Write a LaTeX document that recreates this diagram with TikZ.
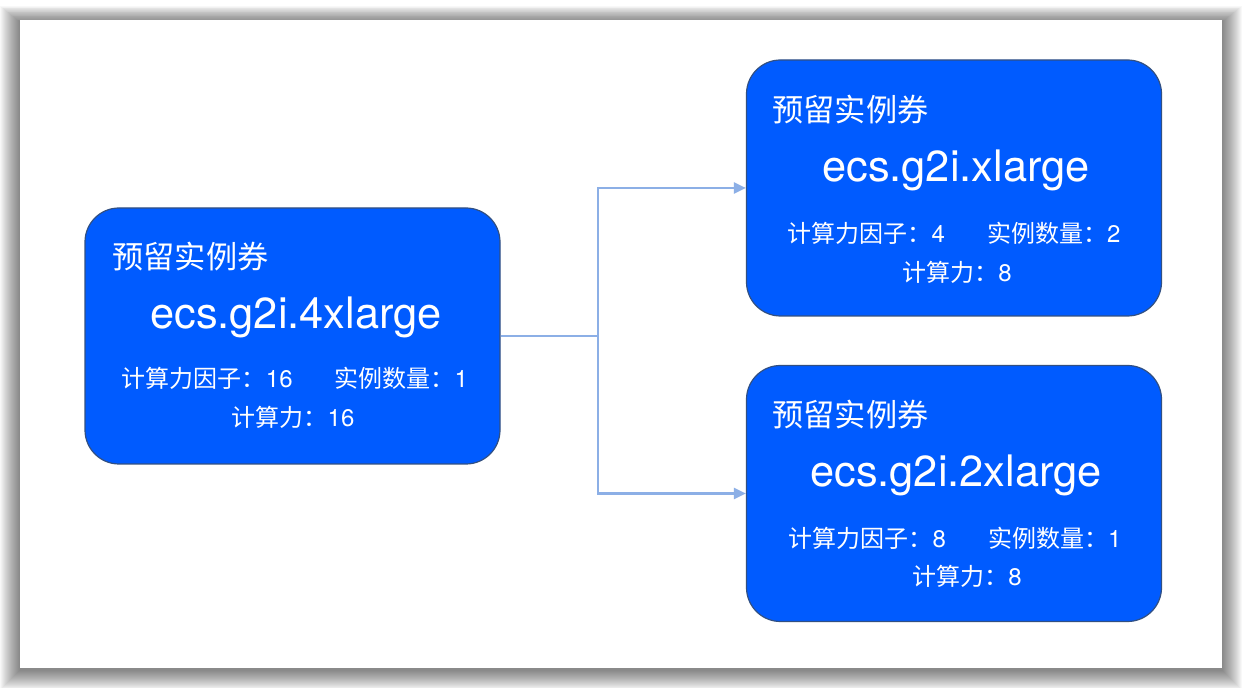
\documentclass[tikz,border=0pt]{standalone}
\usepackage{fontspec}
\setmainfont{TeX Gyre Heros}
\newfontfamily\cjk{Noto Sans CJK SC}
\usetikzlibrary{arrows.meta}
\definecolor{boxblue}{RGB}{0,91,255}
\definecolor{boxline}{RGB}{50,80,130}
\definecolor{conncol}{RGB}{140,175,230}
\tikzset{
  card/.style={draw=boxline, line width=0.6pt, fill=boxblue, rounded corners=17pt,
    minimum width=207.5pt, minimum height=128pt, inner sep=0pt},
  ttl/.style={text=white, font=\cjk\fontsize{15.6}{18}\selectfont, anchor=west, inner sep=0pt},
  big/.style={text=white, font=\fontsize{21.7}{25}\selectfont, inner sep=0pt},
  small/.style={text=white, font=\fontsize{12}{14}\selectfont, inner sep=0pt},
  conn/.style={draw=conncol, line width=1.1pt},
  arr/.style={conn, -{Triangle[length=6pt,width=5.5pt]}}
}
\begin{document}
\begin{tikzpicture}[x=0.5pt,y=-0.5pt]
\useasboundingbox (0,0) rectangle (1242,688);
\fill[white] (0,0) rectangle (1242,688);
% soft shadow around the sheet
\foreach \i in {20,19,...,1}{
  \fill[black, opacity=0.028] (20-\i,22-0.8*\i) rectangle (1222+\i,670+\i);
}
\fill[white] (20,20) rectangle (1222,668);

% boxes
\node[card] (L) at (292.5,336) {};
\node[card] (TR) at (954,188) {};
\node[card] (BR) at (954,493.5) {};

% left box texts
\node[ttl] (Lt) at (112,257) {预留实例券};
\node[big] (Lm) at (296,317) {ecs.g2i.4xlarge};
\node[small] (La) at (295,378) {{\cjk 计算力因子：}16\hspace{21pt}{\cjk 实例数量：}1};
\node[small] (Lb) at (293,417) {{\cjk 计算力：}16};

% top right texts
\node[ttl] (Tt) at (772,110) {预留实例券};
\node[big] (Tm) at (956,170) {ecs.g2i.xlarge};
\node[small] (Ta) at (954,233) {{\cjk 计算力因子：}4\hspace{21pt}{\cjk 实例数量：}2};
\node[small] (Tb) at (957,272) {{\cjk 计算力：}8};

% bottom right texts
\node[ttl] (Bt) at (772,415) {预留实例券};
\node[big] (Bm) at (956,475) {ecs.g2i.2xlarge};
\node[small] (Ba) at (955,538) {{\cjk 计算力因子：}8\hspace{21pt}{\cjk 实例数量：}1};
\node[small] (Bb) at (967,576) {{\cjk 计算力：}8};

% connectors
\coordinate (J) at (598,336);
\draw[conn] (L.east) -- (J);
\draw[arr] (J) |- (TR.west);
\draw[arr] (J) |- (BR.west);
\end{tikzpicture}
\end{document}
